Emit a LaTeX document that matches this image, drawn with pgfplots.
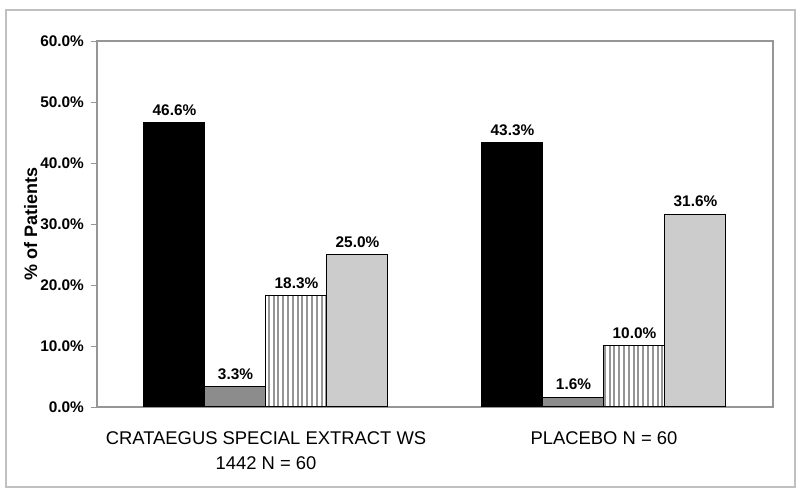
\documentclass[border=0pt]{standalone}
\usepackage{pgfplots}
\pgfplotsset{compat=1.18}
\usetikzlibrary{patterns.meta}
\usepackage{fontspec}
\setmainfont{Liberation Sans}

\definecolor{frame}{RGB}{192,192,192}
\definecolor{axgray}{RGB}{150,150,150}
\definecolor{darkbar}{RGB}{140,140,140}
\definecolor{lightbar}{RGB}{204,204,204}
\definecolor{stripe}{RGB}{150,150,150}

\begin{document}
\begin{tikzpicture}
% page size 800x496 px at 0.5pt/px, axis box corner at (97px,407px)
\useasboundingbox (-48.5pt,-44.5pt) rectangle (351.5pt,203.5pt);
\draw[frame, line width=0.6pt] (-45.5pt,-40pt) rectangle (349pt,198.5pt);
\begin{axis}[
  at={(0,0)}, anchor=south west,
  scale only axis, width=338pt, height=183pt,
  ybar=0pt, bar width=30.5pt,
  xmin=-0.5, xmax=1.5, ymin=0, ymax=60,
  xtick={0,1},
  xticklabels={CRATAEGUS SPECIAL EXTRACT WS\\1442 N = 60, PLACEBO N = 60},
  xticklabel style={align=center, font=\fontsize{9.2}{12.5}\selectfont, yshift=-6pt},
  x tick style={draw=none},
  extra x ticks={-0.5,0.5,1.5}, extra x tick labels={},
  extra x tick style={tick style={draw=axgray}, tick align=outside, major tick length=3pt},
  ytick={0,10,...,60},
  yticklabel={\pgfmathprintnumber[fixed,fixed zerofill,precision=1]{\tick}\%},
  /pgf/number format/assume math mode=true,
  yticklabel style={font=\bfseries\fontsize{7.7}{9}\selectfont},
  y tick style={draw=axgray},
  tick align=outside, major tick length=3pt,
  ytick pos=left,
  axis line style={draw=axgray, line width=0.6pt},
  ylabel={\% of Patients},
  ylabel style={at={(axis description cs:-0.098,0.5)}, anchor=center, font=\bfseries\fontsize{9}{11}\selectfont},
  nodes near coords={\pgfmathprintnumber[fixed,fixed zerofill,precision=1]{\pgfplotspointmeta}\%},
  nodes near coords style={font=\bfseries\fontsize{7.7}{9}\selectfont, text=black},
  every axis plot/.append style={draw=black, line width=0.5pt},
]
\addplot[fill=black] coordinates {(0,46.6) (1,43.3)};
\addplot[fill=darkbar] coordinates {(0,3.3) (1,1.6)};
\addplot[fill=white, postaction={pattern={Lines[angle=90,distance=2.4pt,line width=1pt]}, pattern color=stripe}] coordinates {(0,18.3) (1,10.0)};
\addplot[fill=lightbar] coordinates {(0,25.0) (1,31.6)};
\end{axis}
\end{tikzpicture}
\end{document}
